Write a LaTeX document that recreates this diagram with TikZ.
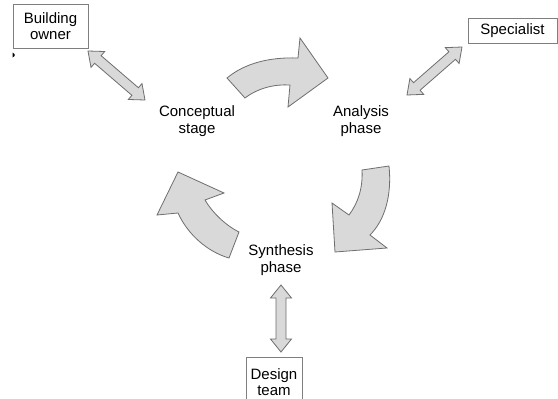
\documentclass[tikz,border=0pt]{standalone}
\usepackage{fontspec}
\setmainfont{Liberation Sans}
\usetikzlibrary{calc}
\definecolor{arrowfill}{HTML}{D9D9D9}
\definecolor{arrowline}{HTML}{6E6E6E}
\definecolor{boxline}{HTML}{7F7F7F}
\tikzset{
  blockarrow/.style={fill=arrowfill, draw=arrowline, line width=0.8pt, line join=miter},
  labeltext/.style={align=center, inner sep=0pt, font=\fontsize{15}{16.5}\selectfont},
  boxnode/.style={draw=boxline, line width=0.8pt, align=center, inner sep=0pt, font=\fontsize{15}{16.5}\selectfont},
}
\newcommand{\blockdbl}[2]{%
  \coordinate (h1) at ($(#1)!13pt!(#2)$);
  \coordinate (h2) at ($(#2)!13pt!(#1)$);
  \filldraw[blockarrow] (#1) -- ($(h1)!10.5pt!90:(#2)$) -- ($(h1)!5pt!90:(#2)$)
    -- ($(h2)!5pt!-90:(#1)$) -- ($(h2)!10.5pt!-90:(#1)$) -- (#2)
    -- ($(h2)!10.5pt!90:(#1)$) -- ($(h2)!5pt!90:(#1)$)
    -- ($(h1)!5pt!-90:(#2)$) -- ($(h1)!10.5pt!-90:(#2)$) -- cycle;
}
\begin{document}
\begin{tikzpicture}[x=1pt, y=-1pt]
\useasboundingbox[fill=white] (0,0) rectangle (558,399);

% boxes
\node[boxnode, minimum width=75pt, minimum height=44pt] (owner) at (50.5,26) {Building\\owner};
\node[boxnode, minimum width=89pt, minimum height=25pt] (spec) at (512.5,30.5) {Specialist};
\node[boxnode, minimum width=56pt, minimum height=50pt] (team) at (274,382) {Design\\team};

% stage labels
\node[labeltext] (concept) at (197,121) {Conceptual\\stage};
\node[labeltext] (analysis) at (361,121) {Analysis\\phase};
\node[labeltext] (synth) at (281,260) {Synthesis\\phase};

% small mark
\fill[black] (12.5,52.5) -- (14.5,54) -- (14.5,56) -- (12.5,57.5) -- cycle;

% straight double arrows
\coordinate (oa) at (88,51);
\coordinate (ob) at (145,100);
\blockdbl{oa}{ob}
\coordinate (sa) at (462,47);
\coordinate (sb) at (407,95);
\blockdbl{sa}{sb}
\coordinate (ta) at (281,285);
\coordinate (tb) at (281,352);
\blockdbl{ta}{tb}

% curved arrows
% conceptual -> analysis
\filldraw[blockarrow] (227,78) .. controls (245,63) and (270,57) .. (298,58)
  -- (300,38) -- (328,78) -- (288,107) -- (290,85)
  .. controls (275,84) and (258,88) .. (245,98) -- cycle;
% analysis -> synthesis
\filldraw[blockarrow] (389,166) .. controls (392,195) and (385,220) .. (370,235)
  -- (387,248) -- (335,252) -- (332,203) -- (349,215)
  .. controls (358,203) and (363,188) .. (362,170) -- cycle;
% synthesis -> conceptual
\filldraw[blockarrow] (239,232) .. controls (225,225) and (212,212) .. (205,200)
  -- (224,193) -- (178,172) -- (157,215) -- (178,213)
  .. controls (188,235) and (208,252) .. (229,258) -- cycle;
\end{tikzpicture}
\end{document}
